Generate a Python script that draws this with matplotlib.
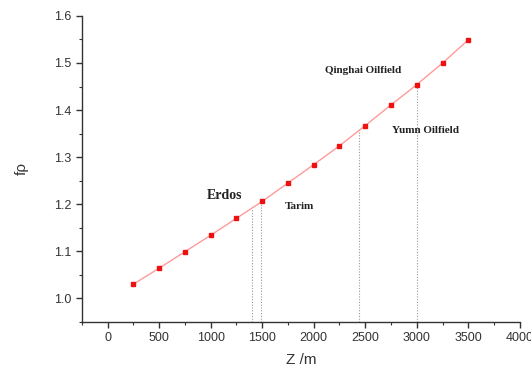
import matplotlib
matplotlib.use("Agg")
import matplotlib.pyplot as plt
from matplotlib.ticker import MultipleLocator

depth = [250, 500, 750, 1000, 1250, 1500, 1750, 2000, 2250, 2500, 2750, 3000, 3250, 3500]
f_rho = [1.030, 1.064, 1.099, 1.134, 1.170, 1.206, 1.245, 1.284, 1.324, 1.367, 1.411, 1.454, 1.500, 1.549]

# oilfield depths (dotted guides) and their labels
guide_depths = [1400, 1490, 2440, 3000]
guide_tops = [1.190, 1.204, 1.360, 1.454]
labels = ["Erdos", "Tarim", "Qinghai Oilfield", "Yumn Oilfield"]
label_pos = [(960, 1.219), (1716, 1.196), (2106, 1.483), (2760, 1.357)]
label_size = [10, 8, 8, 8]

fig = plt.figure(figsize=(5.31, 3.70), dpi=100)
ax = fig.add_axes([0.154, 0.130, 0.825, 0.827])

ax.plot(depth, f_rho, color="#ff9a9a", linewidth=1.0, zorder=2)
ax.plot(depth, f_rho, linestyle="none", marker="s", markersize=3.2,
        color="#ee1111", zorder=3)

for xg, top in zip(guide_depths, guide_tops):
    ax.plot([xg, xg], [0.95, top], color="#999999", linestyle=(0, (1, 1.5)),
            linewidth=0.8, zorder=1)

for text, (tx, ty), size in zip(labels, label_pos, label_size):
    ax.text(tx, ty, text, fontsize=size, family="Liberation Serif",
            fontweight="bold", color="#222222", va="center", ha="left")

ax.set_xlim(-250, 4000)
ax.set_ylim(0.95, 1.6)
ax.xaxis.set_major_locator(MultipleLocator(500))
ax.xaxis.set_minor_locator(MultipleLocator(250))
ax.yaxis.set_major_locator(MultipleLocator(0.1))
ax.yaxis.set_minor_locator(MultipleLocator(0.05))
ax.set_yticks([1.0, 1.1, 1.2, 1.3, 1.4, 1.5, 1.6])
ax.yaxis.set_major_formatter(plt.FormatStrFormatter("%.1f"))

for side in ("top", "right"):
    ax.spines[side].set_visible(False)
for side in ("left", "bottom"):
    ax.spines[side].set_color("#333333")
    ax.spines[side].set_linewidth(1.0)

ax.tick_params(which="major", direction="out", length=4, width=1,
               color="#333333", labelsize=9, labelcolor="#333333")
ax.tick_params(which="minor", direction="out", length=2.5, width=0.8,
               color="#333333")
for lab in ax.get_xticklabels() + ax.get_yticklabels():
    lab.set_family("Liberation Sans")

ax.set_xlabel("Z /m", fontsize=11, family="Liberation Sans", color="#333333",
              labelpad=6)
ax.set_ylabel("fρ", fontsize=11, family="Liberation Sans", color="#333333",
              labelpad=18)

fig.savefig("out.png", dpi=100)
